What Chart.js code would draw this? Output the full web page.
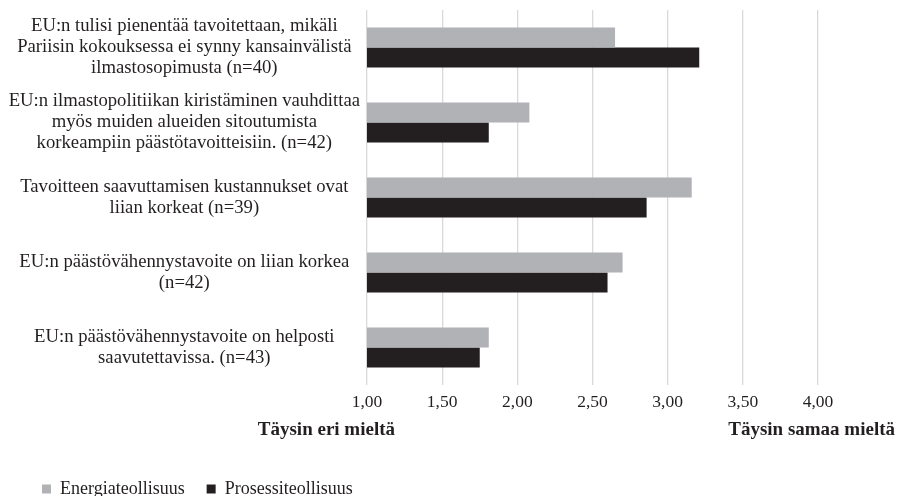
<!DOCTYPE html>
<html>
<head>
<meta charset="utf-8">
<script src="https://cdn.jsdelivr.net/npm/chart.js@4/dist/chart.umd.min.js"></script>
<style>
  html, body { margin: 0; padding: 0; background: #fff; width: 898px; height: 496px; overflow: hidden; }
  #wrap { width: 898px; height: 508px; }
</style>
</head>
<body>
<div id="wrap"><canvas id="chart" width="898" height="508"></canvas></div>
<script>
// Väittämät (monirivisinä nimikkeinä)
const categories = [
  ['EU:n tulisi pienentää tavoitettaan, mikäli', 'Pariisin kokouksessa ei synny kansainvälistä', 'ilmastosopimusta (n=40)'],
  ['EU:n ilmastopolitiikan kiristäminen vauhdittaa', 'myös muiden alueiden sitoutumista', 'korkeampiin päästötavoitteisiin. (n=42)'],
  ['Tavoitteen saavuttamisen kustannukset ovat', 'liian korkeat (n=39)'],
  ['EU:n päästövähennystavoite on liian korkea', '(n=42)'],
  ['EU:n päästövähennystavoite on helposti', 'saavutettavissa. (n=43)']
];

// Keskiarvot asteikolla 1–4
const energiateollisuus = [2.65, 2.08, 3.16, 2.70, 1.81];
const prosessiteollisuus = [3.21, 1.81, 2.86, 2.60, 1.75];

const seriesNames = ['Energiateollisuus', 'Prosessiteollisuus'];
const xTicks = [1.0, 1.5, 2.0, 2.5, 3.0, 3.5, 4.0];
const scaleEnds = ['Täysin eri mieltä', 'Täysin samaa mieltä'];

const SERIF = "'Liberation Serif', 'Times New Roman', serif";
const TEXT = '#231f20';

// Asteikon ääripäiden selitteet akselin alle
const scaleEndLabels = {
  id: 'scaleEndLabels',
  afterDraw(chart) {
    const ctx = chart.ctx;
    const x = chart.scales.x;
    ctx.save();
    ctx.font = 'bold 19px ' + SERIF;
    ctx.fillStyle = TEXT;
    ctx.textBaseline = 'alphabetic';
    const y = chart.chartArea.bottom + 50;
    ctx.textAlign = 'right';
    ctx.fillText(scaleEnds[0], x.getPixelForValue(xTicks[0]) + 28, y);
    ctx.fillText(scaleEnds[1], chart.width - 3, y);
    ctx.restore();
  }
};

// Selite hieman sisennettynä vasemmasta reunasta
const legendIndent = {
  id: 'legendIndent',
  afterLayout(chart) {
    const lg = chart.legend;
    if (lg) { lg.left += 20; lg.right += 20; }
  }
};

new Chart(document.getElementById('chart'), {
  type: 'bar',
  data: {
    labels: categories,
    datasets: [
      { label: seriesNames[0], data: energiateollisuus, backgroundColor: '#b1b2b5' },
      { label: seriesNames[1], data: prosessiteollisuus, backgroundColor: '#231f20' }
    ]
  },
  options: {
    indexAxis: 'y',
    responsive: false,
    animation: false,
    devicePixelRatio: 1,
    categoryPercentage: 0.535,
    barPercentage: 1.0,
    layout: { padding: { left: 0, right: 80, top: 10, bottom: 0 } },
    scales: {
      x: {
        min: 1,
        max: 4,
        afterBuildTicks(scale) { scale.ticks = xTicks.map(v => ({ value: v })); },
        afterFit(scale) { scale.height = 73; },
        grid: { color: '#d9d9d9', lineWidth: 1.3, drawTicks: false },
        border: { display: false },
        ticks: {
          padding: 7,
          color: TEXT,
          font: { family: SERIF, size: 17.5 },
          callback: (v) => Number(v).toFixed(2).replace('.', ',')
        }
      },
      y: {
        afterFit(scale) {
          scale.width = 367;
          scale.paddingTop = 0;
          scale.paddingBottom = 0;
        },
        grid: { display: false, drawTicks: false },
        border: { display: false },
        ticks: {
          crossAlign: 'center',
          padding: 7,
          color: TEXT,
          font: { family: SERIF, size: 18.7, lineHeight: 1.12 }
        }
      }
    },
    plugins: {
      legend: {
        position: 'bottom',
        align: 'start',
        labels: {
          boxWidth: 9,
          boxHeight: 9,
          padding: 22,
          color: TEXT,
          font: { family: SERIF, size: 18 }
        }
      },
      tooltip: { enabled: false }
    }
  },
  plugins: [scaleEndLabels, legendIndent]
});
</script>
</body>
</html>
